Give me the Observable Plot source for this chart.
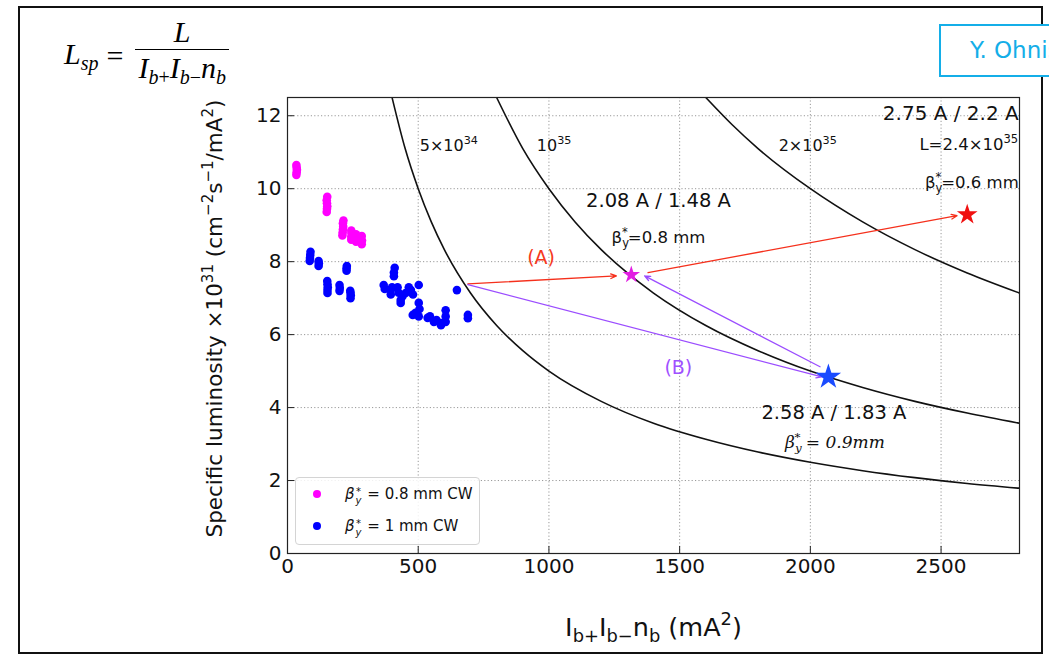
<!DOCTYPE html>
<html><head><meta charset="utf-8">
<script src="https://cdn.jsdelivr.net/npm/d3@7"></script>
<script src="https://cdn.jsdelivr.net/npm/@observablehq/plot@0.6"></script>
<style>
html,body{margin:0;padding:0;background:#fff;width:1049px;height:654px;overflow:hidden;position:relative;font-family:"DejaVu Sans",sans-serif;}
#chart{position:absolute;left:0;top:0;}
#border{position:absolute;left:18px;top:6px;width:1021px;height:644px;border:2px solid #111;pointer-events:none;}
#author{position:absolute;left:939px;top:24px;width:140px;height:49px;border:2px solid #14aee8;background:#fff;color:#14aee8;font-size:23px;line-height:49px;padding-left:29px;white-space:nowrap;}
#formula{position:absolute;left:64px;top:16px;font-family:"Liberation Serif",serif;font-size:30px;display:flex;align-items:center;font-style:italic;}
#formula sub{font-size:20px;vertical-align:-6px;}
#formula .eq{font-style:normal;margin:0 12px 0 8px;}
.frac{display:inline-flex;flex-direction:column;align-items:center;}
.num{border-bottom:1.3px solid #000;width:100%;text-align:center;padding-bottom:2px;line-height:31px;}
.den{line-height:35px;padding:0 3px;}
.den .up{font-style:normal;}
#legend{position:absolute;left:295px;top:477px;width:185px;height:68px;border:1px solid #d4d4d4;border-radius:4px;background:rgba(255,255,255,0.85);box-sizing:border-box;font-size:15px;color:#111;}
#legend .row{position:absolute;left:0;height:20px;line-height:20px;white-space:nowrap;}
#legend .dot{position:absolute;left:17px;top:6px;width:8px;height:8px;border-radius:50%;}
#legend .lt{position:absolute;left:49px;top:0;}
.ss{display:inline-block;vertical-align:-5px;font-size:10px;line-height:9px;text-align:center;width:8px;}
.bt{font-style:italic;}
</style></head><body>
<div id="chart"></div>
<div id="border"></div>
<div id="author">Y. Ohnishi</div>
<div id="formula">
  <span>L<sub>sp</sub></span><span class="eq">=</span>
  <span class="frac"><span class="num">L</span><span class="den">I<sub>b<span class="up">+</span></sub>I<sub>b<span class="up">−</span></sub>n<sub>b</sub></span></span>
</div>
<div id="legend">
  <div class="row" style="top:6px;width:100%"><span class="dot" style="background:#ff00ff"></span><span class="lt"><span class="bt">β</span><span class="ss">*<br><i>y</i></span> = 0.8 mm CW</span></div>
  <div class="row" style="top:38px;width:100%"><span class="dot" style="background:#0000ff"></span><span class="lt"><span class="bt">β</span><span class="ss">*<br><i>y</i></span> = 1 mm CW</span></div>
</div>
<script>
// ---- data ----
const xTicks = [0, 500, 1000, 1500, 2000, 2500];
const yTicks = [0, 2, 4, 6, 8, 10, 12];
const xGrid = [500, 1000, 1500, 2000, 2500];
const yGrid = [2, 4, 6, 8, 10, 12];

// beta_y* = 0.8 mm CW operation
const magentaX = [34,35,36,35,34, 150,151,152,151,150,152, 210,211,212,213,212,214, 244,244,245,244, 262,263,262, 275, 284,285,284];
const magentaY = [10.38,10.45,10.52,10.58,10.65, 9.36,9.45,9.52,9.6,9.68,9.78, 8.72,8.8,8.88,8.96,9.05,9.13, 8.6,8.68,8.78,8.85, 8.55,8.65,8.75, 8.62, 8.48,8.58,8.7];
// beta_y* = 1 mm CW operation
const blueX = [85,86,87,88, 119,120,119, 153,153,154,153,152, 199,200,199, 226,226,227, 241,242,241,240,
  407,407,410,368,372,395,395,400,421,425,433,433,440,452,464,472,502,480,
  479,490,502,505,502,536,545,560,570,587,590,605,605,605, 648, 690,690];
const blueY = [8.02,8.1,8.18,8.27, 7.88,7.95,8.02, 7.14,7.22,7.3,7.38,7.47, 7.2,7.28,7.36, 7.75,7.82,7.88, 7.0,7.08,7.15,7.2,
  7.6,7.7,7.83,7.36,7.25,7.22,7.1,7.3,7.3,7.15,6.95,6.87,7.05,7.14,7.3,7.22,7.36,7.1,
  6.54,6.6,6.87,6.7,6.5,6.46,6.5,6.35,6.4,6.26,6.32,6.67,6.5,6.35, 7.22, 6.54,6.45];

// iso-luminosity lines
const isoAX = [400,450,500,550,600,700,800,900,1000,1200,1400,1600,1800,2000,2200,2400,2600,2800];   // 5x10^34
const isoAY = [12.5,11.1,10.0,9.09,8.33,7.14,6.25,5.56,5.0,4.17,3.57,3.13,2.78,2.5,2.27,2.08,1.92,1.79];
const isoBX = [800,900,1000,1100,1200,1300,1400,1600,1800,2000,2200,2400,2600,2800];                  // 10^35
const isoBY = [12.5,11.1,10.0,9.09,8.33,7.69,7.14,6.25,5.56,5.0,4.55,4.17,3.85,3.57];
const isoCX = [1600,1700,1800,2000,2200,2400,2600,2800];                                              // 2x10^35
const isoCY = [12.5,11.76,11.1,10.0,9.09,8.33,7.69,7.14];

// target working points (stars)
const starMagenta = {x: 1315, y: 7.64};
const starBlue = {x: 2069, y: 4.84};
const starRed = {x: 2600, y: 9.29};

// arrows (A) red and (B) purple
const arrowsA = [
  {x1: 690, y1: 7.39, x2: 1258, y2: 7.61},
  {x1: 1379, y1: 7.70, x2: 2561, y2: 9.26}
];
const arrowsB = [
  {x1: 690, y1: 7.37, x2: 2044, y2: 4.84},
  {x1: 2037, y1: 5.12, x2: 1366, y2: 7.61}
];

// annotation texts
const isoLabels = [
  {x: 617, y: 11.18, t: "5×10^{34}"},
  {x: 1020, y: 11.18, t: "10^{35}"},
  {x: 1990, y: 11.18, t: "2×10^{35}"}
];
const bigLabels = [
  {x: 1419, y: 9.67, t: "2.08 A / 1.48 A"},
  {x: 2090, y: 3.85, t: "2.58 A / 1.83 A"}
];
const rightBig = [{x: 2797, y: 12.06, t: "2.75 A / 2.2 A"}];
const rightSmall = [
  {x: 2795, y: 11.2, t: "L=2.4×10^{35}"},
  {x: 2797, y: 10.16, t: "β_{y}^{*}=0.6 mm"}
];
const betaLabels = [{x: 1419, y: 8.65, t: "β_{y}^{*}=0.8 mm"}];
const serifLabels = [{x: 2094, y: 3.05, t: "β_{y}^{*} = 0.9mm"}];
const labelA = [{x: 970, y: 8.1, t: "(A)"}];
const labelB = [{x: 1495, y: 5.08, t: "(B)"}];

const xLabel = "I_{b+}I_{b−}n_{b} (mA^{2})";
const yLabel = "Specific luminosity ×10^{31} (cm^{−2}s^{−1}/mA^{2})";

// ---- build ----
const zip = (xs, ys) => xs.map((x, i) => ({x, y: ys[i]}));
const magenta = zip(magentaX, magentaY);
const blue = zip(blueX, blueY);
const isoA = zip(isoAX, isoAY), isoB = zip(isoBX, isoBY), isoC = zip(isoCX, isoCY);

const FONT = "DejaVu Sans";
const frameW = 1049 - 287 - 30, frameH = 654 - 97 - 101;

const plot = Plot.plot({
  width: 1049, height: 654,
  marginLeft: 287, marginRight: 30, marginTop: 97, marginBottom: 101,
  style: {background: "transparent", fontFamily: FONT, overflow: "visible"},
  x: {domain: [0, 2800], axis: null},
  y: {domain: [0, 12.5], axis: null},
  marks: [
    Plot.gridX(xGrid, {x: d => d, stroke: "#999", strokeOpacity: 1, strokeDasharray: "1.2,2.2", strokeWidth: 1}),
    Plot.gridY(yGrid, {y: d => d, stroke: "#999", strokeOpacity: 1, strokeDasharray: "1.2,2.2", strokeWidth: 1}),
    Plot.line(isoA, {x: "x", y: "y", stroke: "#111", strokeWidth: 1.6, curve: "monotone-x", clip: true}),
    Plot.line(isoB, {x: "x", y: "y", stroke: "#111", strokeWidth: 1.6, curve: "monotone-x", clip: true}),
    Plot.line(isoC, {x: "x", y: "y", stroke: "#111", strokeWidth: 1.6, curve: "monotone-x", clip: true}),
    Plot.dot(magenta, {x: "x", y: "y", r: 4.3, fill: "#ff00ff"}),
    Plot.dot(blue, {x: "x", y: "y", r: 4.3, fill: "#0000ff"}),
    Plot.arrow(arrowsA, {x1: "x1", y1: "y1", x2: "x2", y2: "y2", stroke: "#f5301c", strokeWidth: 1.3, headLength: 7, headAngle: 45}),
    Plot.arrow(arrowsB, {x1: "x1", y1: "y1", x2: "x2", y2: "y2", stroke: "#9b4dff", strokeWidth: 1.3, headLength: 7, headAngle: 45}),
    Plot.dot([starMagenta], {x: "x", y: "y", symbol: "star", r: 5.5, fill: "#e21fe2"}),
    Plot.dot([starBlue], {x: "x", y: "y", symbol: "star", r: 8, fill: "#1a4bff"}),
    Plot.dot([starRed], {x: "x", y: "y", symbol: "star", r: 6.5, fill: "#f01010"}),
    Plot.text(isoLabels, {x: "x", y: "y", text: "t", fontSize: 16, fill: "#111"}),
    Plot.text(bigLabels, {x: "x", y: "y", text: "t", fontSize: 19.5, fill: "#111"}),
    Plot.text(rightBig, {x: "x", y: "y", text: "t", fontSize: 20, fill: "#111", textAnchor: "end"}),
    Plot.text(rightSmall, {x: "x", y: "y", text: "t", fontSize: 16.5, fill: "#111", textAnchor: "end"}),
    Plot.text(betaLabels, {x: "x", y: "y", text: "t", fontSize: 16.5, fill: "#111"}),
    Plot.text(serifLabels, {x: "x", y: "y", text: "t", fontSize: 17, fill: "#111", fontFamily: "DejaVu Serif", fontStyle: "italic"}),
    Plot.text(labelA, {x: "x", y: "y", text: "t", fontSize: 19, fill: "#f5391d"}),
    Plot.text(labelB, {x: "x", y: "y", text: "t", fontSize: 19, fill: "#a050ff"}),
    Plot.frame({stroke: "#222", strokeWidth: 1.2}),
    Plot.tickX(xTicks, {x: d => d, stroke: "#222", insetTop: frameH - 7}),
    Plot.tickY(yTicks, {y: d => d, stroke: "#222", insetRight: frameW - 7}),
    Plot.axisX(xTicks, {tickSize: 0, tickPadding: 5, fontSize: 20, tickFormat: d => String(d), label: null, fill: "#111"}),
    Plot.axisY(yTicks, {tickSize: 0, tickPadding: 6, fontSize: 20, tickFormat: d => String(d), label: null, fill: "#111"}),
    Plot.text([xLabel], {text: d => d, frameAnchor: "bottom", textAnchor: "middle", lineAnchor: "middle", dy: 74, fontSize: 25.5, fill: "#111"}),
    Plot.text([yLabel], {text: d => d, frameAnchor: "left", textAnchor: "middle", lineAnchor: "middle", dx: -72, dy: -7, rotate: -90, fontSize: 21.5, fill: "#111"})
  ]
});

// turn ^{..} / _{..} markup into raised / lowered tspans
function richText(svg) {
  const NS = "http://www.w3.org/2000/svg";
  svg.querySelectorAll("text").forEach(t => {
    const s = t.textContent;
    if (!/[\^_]\{/.test(s)) return;
    const re = /([\^_])\{([^}]*)\}/g;
    const segs = []; let last = 0, m;
    while ((m = re.exec(s))) {
      if (m.index > last) segs.push({k: "n", s: s.slice(last, m.index)});
      segs.push({k: m[1] === "^" ? "sup" : "sub", s: m[2]});
      last = re.lastIndex;
    }
    if (last < s.length) segs.push({k: "n", s: s.slice(last)});
    while (t.firstChild) t.removeChild(t.firstChild);
    let cur = 0, prev = null;
    for (const g of segs) {
      const ts = document.createElementNS(NS, "tspan");
      const r = g.k === "n" ? 1 : 0.7;
      const target = g.k === "sup" ? -0.42 : g.k === "sub" ? 0.24 : 0;
      const dy = (target - cur) / r;
      if (Math.abs(dy) > 1e-6) ts.setAttribute("dy", dy.toFixed(3) + "em");
      if (r !== 1) ts.setAttribute("font-size", "70%");
      if (g.k === "sup" && prev && prev.k === "sub") ts.setAttribute("dx", (-0.6 * prev.s.length).toFixed(2) + "em");
      ts.textContent = g.s;
      t.appendChild(ts);
      cur = target; prev = g;
    }
  });
}
richText(plot);
document.getElementById("chart").appendChild(plot);
</script>
</body></html>
